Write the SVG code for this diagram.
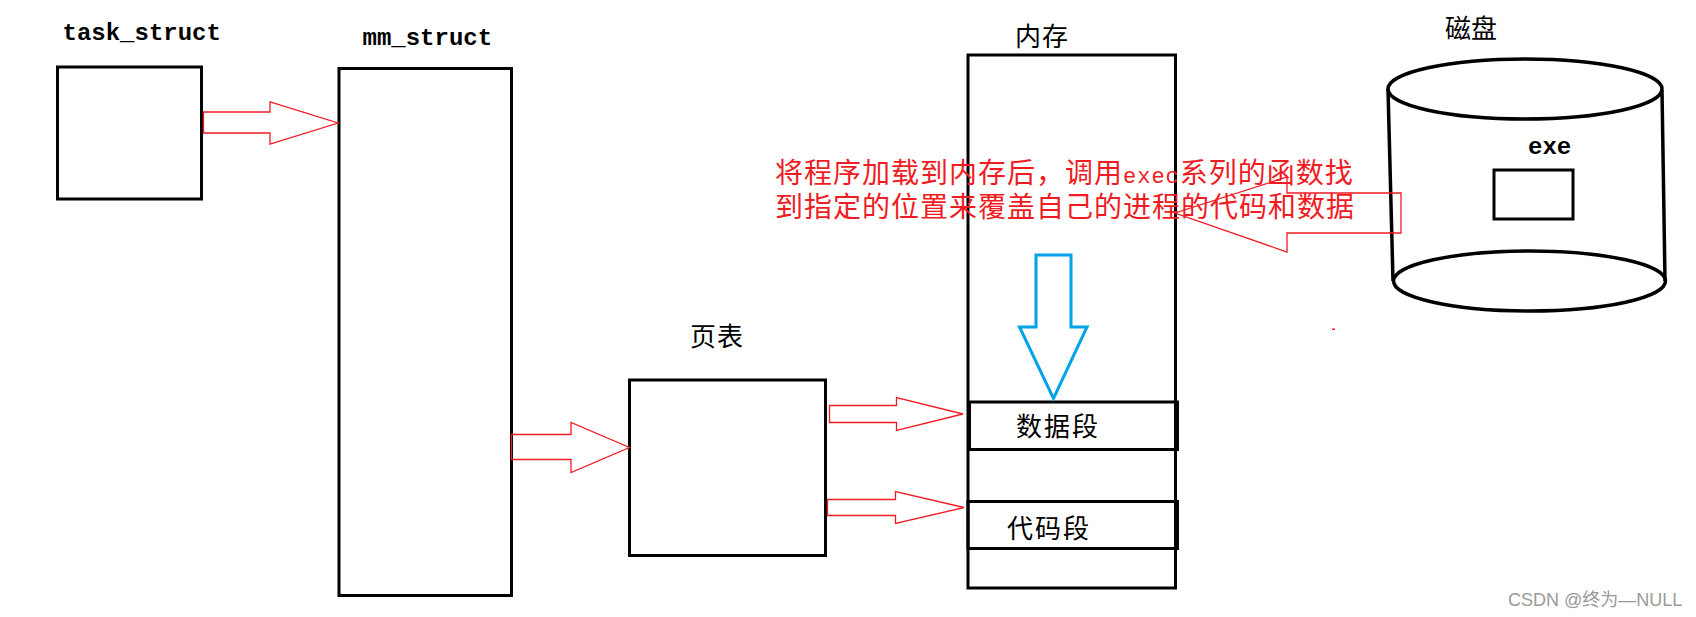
<svg xmlns="http://www.w3.org/2000/svg" width="1696" height="617" viewBox="0 0 1696 617">
<style>
.box{fill:none;stroke:#000;stroke-width:3}
.cyl{fill:none;stroke:#000;stroke-width:3.5}
.red{fill:none;stroke:#f01c24;stroke-width:1.3;stroke-linejoin:miter}
.blue{fill:none;stroke:#00a2e8;stroke-width:3}
.mono{font-family:"Liberation Mono","DejaVu Sans Mono",monospace;font-size:24px;font-weight:bold;fill:#000}
.cjk{font-family:"Noto Sans CJK SC","Noto Sans CJK JP",sans-serif;font-size:26px;fill:#000}
.note{font-family:"Noto Sans CJK SC","Noto Sans CJK JP",sans-serif;font-size:28px;fill:#f01c24;letter-spacing:1px}
.wm{font-family:"Liberation Sans","Noto Sans CJK SC",sans-serif;font-size:18px;fill:#9a9a9a}
</style>
<rect width="1696" height="617" fill="#fff"/>
<g id="task_struct">
<rect class="box" x="57.5" y="67" width="144" height="132"/>
<text class="mono" x="62.5" y="39.5">task_struct</text>
</g>
<g id="mm_struct">
<rect class="box" x="339" y="68.5" width="172.5" height="527"/>
<text class="mono" x="362.5" y="45">mm_struct</text>
</g>
<g id="page_table">
<rect class="box" x="629.5" y="380" width="196" height="175.5"/>
<text class="cjk" x="690" y="346" letter-spacing="1">页表</text>
</g>
<g id="memory">
<rect class="box" x="968" y="55" width="207.5" height="533"/>
<text class="cjk" x="1015" y="46" letter-spacing="1">内存</text>
</g>
<g id="data_segment">
<rect class="box" x="969.5" y="402" width="208" height="47.5"/>
<text class="cjk" x="1016" y="435.5" letter-spacing="2">数据段</text>
</g>
<g id="code_segment">
<rect class="box" x="968" y="501.5" width="209.5" height="47"/>
<text class="cjk" x="1007" y="538" letter-spacing="2">代码段</text>
</g>
<g id="disk">
<ellipse class="cyl" cx="1525" cy="89" rx="137" ry="30"/>
<line class="cyl" x1="1388" y1="89" x2="1393" y2="281"/>
<line class="cyl" x1="1662" y1="90" x2="1665" y2="281"/>
<ellipse class="cyl" cx="1529.5" cy="281" rx="136" ry="30"/>
<text class="cjk" x="1445" y="37.5" font-size="27">磁盘</text>
</g>
<g id="exe">
<rect class="box" x="1494" y="170" width="79" height="49"/>
<text class="mono" x="1528" y="154">exe</text>
</g>
<g id="connectors">
<polygon class="red" points="203.5,112 270,112 270,102 338,123 270,144 270,133 203.5,133"/>
<polygon class="red" points="511.5,434.5 571,434.5 571,422.5 629.5,447.5 571,472.5 571,459.5 511.5,459.5"/>
<polygon class="red" points="829.5,405.5 896.5,405.5 896.5,397.5 963,414 896.5,430.5 896.5,422.5 829.5,422.5"/>
<polygon class="red" points="827.5,499.5 895.5,499.5 895.5,491.5 964,507.5 895.5,523.5 895.5,515.5 827.5,515.5"/>
<polygon class="red" points="1401,193 1287,193 1287,177 1175,213 1287,252 1287,233 1401,233"/>
<polygon class="blue" points="1036,255 1071,255 1071,327 1087,327 1053.5,398.5 1019.5,327 1036,327"/>
</g>
<g id="note">
<text class="note" x="775" y="182.5">将程序加载到内存后，调用<tspan font-size="22" font-family="Liberation Mono, monospace">exec</tspan>系列的函数找</text>
<text class="note" x="775" y="216.5">到指定的位置来覆盖自己的进程的代码和数据</text>
</g>
<rect x="1332" y="328.5" width="3" height="1.5" fill="#f01c24"/>
<text class="wm" x="1508" y="606">CSDN @终为—NULL</text>
</svg>
